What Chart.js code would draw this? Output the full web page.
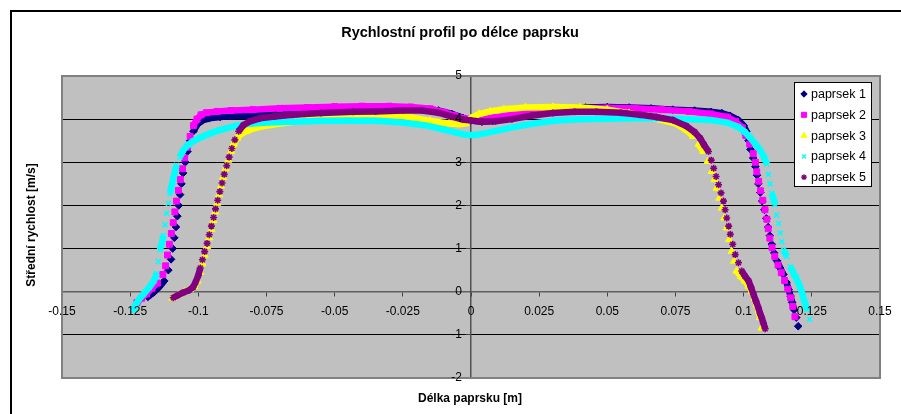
<!DOCTYPE html>
<html lang="cs">
<head>
<meta charset="UTF-8">
<title>Rychlostní profil</title>
<script src="https://cdn.jsdelivr.net/npm/chart.js@4.4.1/dist/chart.umd.min.js"></script>
<style>
    html, body { margin: 0; padding: 0; background: #fff; }
    #wrap { width: 901px; height: 414px; }
</style>
</head>
<body>
<div id="wrap"><canvas id="chart" width="901" height="414"></canvas></div>
<script>
    const chartTitle = "Rychlostní profil po délce paprsku";
    const xTitle = "Délka paprsku [m]";
    const yTitle = "Střední rychlost [m/s]";
    const seriesNames = ["paprsek 1", "paprsek 2", "paprsek 3", "paprsek 4", "paprsek 5"];
    const xTicks = [-0.15, -0.125, -0.1, -0.075, -0.05, -0.025, 0, 0.025, 0.05, 0.075, 0.1, 0.125, 0.15];
    const yTicks = [-2, -1, 0, 1, 2, 3, 4, 5];

    // paprsek 1
    const x1 = [-0.1185, -0.1165, -0.1145, -0.1125, -0.111, -0.11, -0.1094, -0.1088, -0.1082, -0.1077, -0.1072, -0.1067, -0.1062, -0.1056, -0.1048, -0.104, -0.103, -0.1018, -0.1003, -0.0985, -0.096, -0.092, -0.087, -0.082, -0.076, -0.07, -0.064, -0.055, -0.045, -0.035, -0.025, -0.018, -0.012, -0.007, -0.003, 0, 0.004, 0.008, 0.013, 0.018, 0.024, 0.03, 0.036, 0.042, 0.05, 0.058, 0.066, 0.074, 0.082, 0.088, 0.092, 0.095, 0.098, 0.1, 0.101, 0.1018, 0.1025, 0.1035, 0.1043, 0.1049, 0.1054, 0.1061, 0.1068, 0.1076, 0.1083, 0.109, 0.1096, 0.1103, 0.1112, 0.1122, 0.1134, 0.1146, 0.1157, 0.1165, 0.1172, 0.1178, 0.1185, 0.1193, 0.12];
    const y1 = [-0.12, -0.02, 0.1, 0.25, 0.5, 0.75, 1.0, 1.25, 1.5, 1.75, 2.0, 2.25, 2.5, 2.75, 3.0, 3.25, 3.5, 3.72, 3.88, 3.97, 4.02, 4.05, 4.07, 4.08, 4.1, 4.12, 4.13, 4.16, 4.19, 4.22, 4.24, 4.24, 4.2, 4.12, 4.03, 3.97, 3.94, 3.96, 4.03, 4.09, 4.15, 4.2, 4.24, 4.27, 4.28, 4.27, 4.25, 4.22, 4.2, 4.17, 4.14, 4.08, 3.98, 3.85, 3.72, 3.5, 3.3, 3.1, 2.9, 2.7, 2.5, 2.3, 2.1, 1.9, 1.7, 1.5, 1.3, 1.1, 0.9, 0.72, 0.55, 0.4, 0.22, 0.05, -0.1, -0.25, -0.42, -0.6, -0.8];

    // paprsek 2
    const x2 = [-0.1225, -0.1208, -0.119, -0.117, -0.115, -0.113, -0.112, -0.1113, -0.1106, -0.1099, -0.1092, -0.1086, -0.108, -0.1073, -0.1066, -0.1058, -0.105, -0.104, -0.103, -0.1018, -0.1005, -0.099, -0.097, -0.093, -0.088, -0.08, -0.07, -0.06, -0.05, -0.04, -0.03, -0.022, -0.015, -0.01, -0.006, -0.003, 0, 0.004, 0.009, 0.015, 0.022, 0.03, 0.04, 0.05, 0.06, 0.07, 0.08, 0.088, 0.094, 0.097, 0.0995, 0.1008, 0.1022, 0.1035, 0.1043, 0.1048, 0.1055, 0.1062, 0.107, 0.1078, 0.1085, 0.109, 0.1096, 0.1104, 0.1114, 0.1126, 0.1138, 0.115, 0.1162, 0.1172, 0.118, 0.1188];
    const y2 = [-0.25, -0.15, -0.05, 0.08, 0.2, 0.4, 0.6, 0.85, 1.1, 1.35, 1.6, 1.85, 2.1, 2.35, 2.6, 2.85, 3.1, 3.35, 3.6, 3.85, 4.0, 4.1, 4.15, 4.18, 4.2, 4.22, 4.25, 4.27, 4.29, 4.3, 4.3, 4.28, 4.24, 4.16, 4.08, 4.02, 4.0, 4.0, 4.04, 4.1, 4.17, 4.22, 4.25, 4.26, 4.25, 4.22, 4.18, 4.12, 4.05, 3.95, 3.8, 3.62, 3.42, 3.2, 3.0, 2.78, 2.56, 2.34, 2.12, 1.9, 1.68, 1.46, 1.24, 1.02, 0.82, 0.62, 0.44, 0.26, 0.06, -0.14, -0.34, -0.58];

    // paprsek 3
    const x3 = [-0.1095, -0.1075, -0.105, -0.103, -0.1015, -0.1003, -0.0993, -0.0985, -0.0977, -0.0968, -0.096, -0.0952, -0.0945, -0.0938, -0.0931, -0.0924, -0.0917, -0.0909, -0.09, -0.089, -0.088, -0.087, -0.0858, -0.0843, -0.0825, -0.08, -0.076, -0.07, -0.062, -0.054, -0.046, -0.038, -0.03, -0.022, -0.015, -0.008, -0.004, -0.002, 0, 0.003, 0.007, 0.012, 0.02, 0.03, 0.04, 0.05, 0.058, 0.065, 0.07, 0.075, 0.079, 0.0815, 0.0835, 0.0852, 0.0868, 0.0883, 0.0893, 0.0901, 0.0911, 0.092, 0.0929, 0.0938, 0.0947, 0.0956, 0.0965, 0.0974, 0.099, 0.1005, 0.1018, 0.103, 0.104, 0.1048, 0.1055, 0.106, 0.1066];
    const y3 = [-0.15, -0.08, 0.0, 0.05, 0.12, 0.25, 0.45, 0.65, 0.85, 1.05, 1.25, 1.45, 1.65, 1.85, 2.05, 2.25, 2.45, 2.65, 2.85, 3.05, 3.25, 3.42, 3.56, 3.66, 3.72, 3.78, 3.84, 3.9, 3.96, 4.02, 4.08, 4.12, 4.1, 4.04, 3.96, 3.9, 3.88, 3.9, 4.02, 4.12, 4.18, 4.23, 4.27, 4.28, 4.27, 4.22, 4.14, 4.05, 3.98, 3.9, 3.75, 3.6, 3.42, 3.25, 3.02, 2.79, 2.6, 2.4, 2.17, 1.94, 1.71, 1.48, 1.21, 0.94, 0.71, 0.48, 0.35, 0.25, 0.13, 0.01, -0.15, -0.3, -0.45, -0.6, -0.84];

    // paprsek 4
    const x4 = [-0.1238, -0.123, -0.1218, -0.12, -0.118, -0.1163, -0.1153, -0.1147, -0.1141, -0.1134, -0.1128, -0.1122, -0.1116, -0.111, -0.1104, -0.1098, -0.1092, -0.1086, -0.108, -0.1068, -0.1055, -0.1038, -0.1019, -0.099, -0.0957, -0.0925, -0.0896, -0.086, -0.0823, -0.075, -0.065, -0.055, -0.045, -0.035, -0.025, -0.017, -0.01, -0.005, -0.002, 0.001, 0.005, 0.01, 0.016, 0.023, 0.031, 0.04, 0.05, 0.06, 0.07, 0.08, 0.088, 0.094, 0.098, 0.1005, 0.1024, 0.1042, 0.1061, 0.1075, 0.1085, 0.1091, 0.1097, 0.1103, 0.111, 0.1115, 0.1121, 0.1128, 0.1134, 0.114, 0.1146, 0.1158, 0.1171, 0.1183, 0.1192, 0.1201, 0.1207, 0.1213, 0.1219, 0.1226, 0.1232, 0.1242];
    const y4 = [-0.44, -0.3, -0.18, -0.05, 0.1, 0.25, 0.42, 0.7, 0.97, 1.12, 1.3, 1.55, 1.82, 2.05, 2.28, 2.45, 2.62, 2.78, 2.93, 3.12, 3.28, 3.4, 3.49, 3.58, 3.67, 3.74, 3.79, 3.85, 3.89, 3.92, 3.94, 3.96, 3.97, 3.96, 3.92, 3.86, 3.76, 3.68, 3.64, 3.63, 3.67, 3.74, 3.82, 3.9, 3.97, 4.0, 4.01, 4.02, 4.02, 4.0, 3.98, 3.92, 3.82, 3.7, 3.57, 3.43, 3.28, 3.12, 2.96, 2.72, 2.5, 2.28, 2.14, 2.02, 1.78, 1.58, 1.36, 1.16, 0.97, 0.82, 0.58, 0.43, 0.32, 0.2, 0.1, 0.0, -0.15, -0.28, -0.42, -0.64];

    // paprsek 5
    const x5 = [-0.1092, -0.1075, -0.1055, -0.1035, -0.102, -0.101, -0.1, -0.0993, -0.0985, -0.0977, -0.0968, -0.096, -0.0952, -0.0944, -0.0937, -0.0929, -0.0921, -0.0913, -0.0905, -0.0896, -0.0887, -0.0877, -0.0866, -0.0852, -0.0835, -0.081, -0.0774, -0.072, -0.0654, -0.055, -0.0432, -0.035, -0.025, -0.018, -0.012, -0.007, -0.003, 0, 0.004, 0.009, 0.015, 0.022, 0.03, 0.038, 0.046, 0.055, 0.062, 0.068, 0.074, 0.079, 0.082, 0.084, 0.0855, 0.0871, 0.0881, 0.089, 0.0899, 0.0908, 0.0917, 0.0926, 0.0932, 0.0938, 0.0945, 0.0951, 0.096, 0.0969, 0.0981, 0.0993, 0.1005, 0.1018, 0.1027, 0.1036, 0.1045, 0.1054, 0.106, 0.1066, 0.1072, 0.1079];
    const y5 = [-0.14, -0.08, -0.02, 0.03, 0.1, 0.22, 0.38, 0.55, 0.74, 0.93, 1.12, 1.32, 1.52, 1.72, 1.92, 2.12, 2.32, 2.52, 2.72, 2.92, 3.12, 3.32, 3.52, 3.72, 3.86, 3.95, 4.02, 4.06, 4.1, 4.14, 4.17, 4.18, 4.2, 4.2, 4.15, 4.06, 3.99, 3.97, 3.94, 3.95, 4.0, 4.08, 4.14, 4.17, 4.17, 4.15, 4.1, 4.05, 3.98, 3.84, 3.7, 3.56, 3.4, 3.25, 3.05, 2.86, 2.67, 2.48, 2.29, 2.1, 1.9, 1.71, 1.52, 1.33, 1.1, 0.86, 0.67, 0.48, 0.36, 0.25, 0.1, -0.06, -0.22, -0.37, -0.5, -0.6, -0.72, -0.86];

    const xs = [x1, x2, x3, x4, x5];
    const ys = [y1, y2, y3, y4, y5];
    const colors = ["#000080", "#FF00FF", "#FFFF00", "#00FFFF", "#800080"];
    const styles = ["rectRot", "rect", "triangle", "crossRot", "star"];
    const radii = [3.8, 4.2, 4.2, 3.5, 3.5];

    const FONT = "'Liberation Sans', Arial, sans-serif";

    // line only between close points, so the flat parts read as a thick band
    function segColor(color) {
        return ctx => {
            const a = ctx.p0.parsed, b = ctx.p1.parsed;
            return (Math.abs(b.y - a.y) < 0.18 && Math.abs(b.x - a.x) < 0.012) ? color : 'transparent';
        };
    }

    const datasets = seriesNames.map((name, i) => ({
        label: name,
        data: xs[i].map((x, j) => ({ x: x, y: ys[i][j] })),
        showLine: true,
        borderColor: colors[i],
        borderWidth: 6.5,
        segment: { borderColor: segColor(colors[i]) },
        pointStyle: styles[i],
        pointRadius: radii[i],
        pointBackgroundColor: colors[i],
        pointBorderColor: colors[i],
        pointBorderWidth: (styles[i] === "crossRot" || styles[i] === "star") ? 1.6 : 1,
        order: 5 - i
    }));

    const decor = {
        id: 'decor',
        beforeDraw(chart) {
            const c = chart.ctx, a = chart.chartArea;
            c.save();
            c.fillStyle = '#fff';
            c.fillRect(0, 0, chart.width, chart.height);
            // outer chart frame (only top and left fit in the window)
            c.strokeStyle = '#000';
            c.lineWidth = 2;
            c.beginPath();
            c.moveTo(11, chart.height);
            c.lineTo(11, 11);
            c.lineTo(chart.width, 11);
            c.stroke();
            c.fillStyle = '#C0C0C0';
            c.fillRect(a.left, a.top, a.right - a.left, a.bottom - a.top);
            c.restore();
        },
        afterDraw(chart) {
            const c = chart.ctx, a = chart.chartArea;
            const sx = chart.scales.x, sy = chart.scales.y;
            c.save();
            c.strokeStyle = '#808080';
            c.lineWidth = 2;
            c.strokeRect(a.left, a.top, a.right - a.left, a.bottom - a.top);

            // tick labels beside the crossing axes
            const ax = sx.getPixelForValue(0), ay = sy.getPixelForValue(0);
            c.fillStyle = '#000';
            c.font = '12px ' + FONT;
            c.textAlign = 'center';
            c.textBaseline = 'middle';
            xTicks.forEach(v => c.fillText(String(+v.toFixed(3)), sx.getPixelForValue(v), ay + 19.5));
            c.textAlign = 'right';
            yTicks.forEach(v => c.fillText(String(v), ax - 9, sy.getPixelForValue(v)));

            c.textAlign = 'center';
            c.font = 'bold 14.5px ' + FONT;
            c.fillText(chartTitle, 460, 33);
            c.font = 'bold 12px ' + FONT;
            c.fillText(xTitle, 470, 399);
            c.translate(32, 225);
            c.rotate(-Math.PI / 2);
            c.fillText(yTitle, 0, 0);
            c.restore();

            // legend box
            c.save();
            const lx = 794, ly = 82, lw = 77, lh = 104;
            c.fillStyle = '#fff';
            c.fillRect(lx, ly, lw, lh);
            c.strokeStyle = '#000';
            c.lineWidth = 1;
            c.strokeRect(lx + 0.5, ly + 0.5, lw, lh);
            c.font = '12.5px ' + FONT;
            c.textAlign = 'left';
            c.textBaseline = 'middle';
            seriesNames.forEach((name, i) => {
                const yy = 94 + i * 20.8;
                c.fillStyle = colors[i];
                c.strokeStyle = colors[i];
                c.lineWidth = (styles[i] === "crossRot" || styles[i] === "star") ? 1.3 : 1;
                Chart.helpers.drawPoint(c, { pointStyle: styles[i], radius: radii[i] - 0.6, rotation: 0, borderWidth: c.lineWidth }, 804, yy);
                c.fillStyle = '#000';
                c.fillText(name, 811, yy + 0.5);
            });
            c.restore();
        }
    };

    new Chart(document.getElementById('chart'), {
        type: 'scatter',
        data: { datasets: datasets },
        options: {
            responsive: false,
            animation: false,
            layout: { padding: { left: 62, right: 21, top: 76, bottom: 36 } },
            plugins: { legend: { display: false }, tooltip: { enabled: false }, title: { display: false } },
            elements: { line: { tension: 0 } },
            scales: {
                x: {
                    type: 'linear',
                    min: -0.15,
                    max: 0.15,
                    position: { y: 0 },
                    afterBuildTicks: s => { s.ticks = xTicks.map(v => ({ value: v })); },
                    ticks: { display: false, autoSkip: false },
                    grid: { drawOnChartArea: false, drawTicks: true, tickLength: 4, tickColor: '#404040' },
                    border: { color: '#606060', width: 1.5 }
                },
                y: {
                    type: 'linear',
                    min: -2,
                    max: 5,
                    position: { x: 0 },
                    afterBuildTicks: s => { s.ticks = yTicks.map(v => ({ value: v })); },
                    ticks: { display: false },
                    grid: {
                        color: c => (c.tick && (c.tick.value === 0 || c.tick.value === 5 || c.tick.value === -2)) ? 'transparent' : '#000',
                        lineWidth: 1,
                        tickLength: 4,
                        tickColor: '#404040'
                    },
                    border: { color: '#505050', width: 1.5 }
                }
            }
        },
        plugins: [decor]
    });
</script>
</body>
</html>
